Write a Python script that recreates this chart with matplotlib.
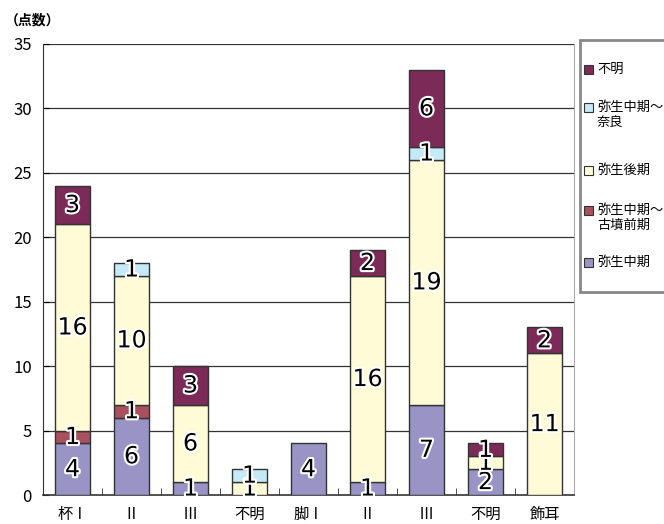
import numpy as np
import matplotlib.pyplot as plt
import matplotlib.patheffects as pe
from matplotlib.patches import Rectangle

plt.rcParams['font.family'] = ['Noto Sans CJK JP', 'DejaVu Sans']

categories = ['杯Ⅰ', 'Ⅱ', 'Ⅲ', '不明', '脚Ⅰ', 'Ⅱ', 'Ⅲ', '不明', '飾耳']
series_names = ['弥生中期', '弥生中期～\n古墳前期', '弥生後期', '弥生中期～\n奈良', '不明']
yayoi_mid = [4, 6, 1, 0, 4, 1, 7, 2, 0]
yayoi_mid_kofun = [1, 1, 0, 0, 0, 0, 0, 0, 0]
yayoi_late = [16, 10, 6, 1, 0, 16, 19, 1, 11]
yayoi_mid_nara = [0, 1, 0, 1, 0, 0, 1, 0, 0]
unknown = [3, 0, 3, 0, 0, 2, 6, 1, 2]
colors = ['#9a94c6', '#a8505e', '#fffbd6', '#c6e9f7', '#7c2a57']

data = [yayoi_mid, yayoi_mid_kofun, yayoi_late, yayoi_mid_nara, unknown]

W, H = 664, 524
fig = plt.figure(figsize=(W / 100, H / 100), dpi=100)
ax = fig.add_axes([43/W, 1 - 495/H, (574 - 43)/W, (495 - 44)/H])

x = np.arange(len(categories))
bottom = np.zeros(len(categories))
for vals, name, c in zip(data, series_names, colors):
    vals = np.array(vals, dtype=float)
    keep = vals > 0  # no empty segments (they would leave an edge line)
    ax.bar(x[keep], vals[keep], width=0.6, bottom=bottom[keep], color=c,
           edgecolor='#333333', linewidth=1.0, zorder=3)
    for xi, v, b in zip(x[keep], vals[keep], bottom[keep]):
        ax.text(xi, b + v / 2, f'{int(v)}', ha='center', va='center',
                fontsize=17, family='DejaVu Sans', color='black', zorder=5,
                path_effects=[pe.withStroke(linewidth=3, foreground='white')])
    bottom += vals

ax.set_xlim(-0.5, len(categories) - 0.5)
ax.set_ylim(0, 35)
ax.set_yticks(range(0, 36, 5))
ax.set_xticks(x)
ax.set_xticklabels(categories, fontsize=11)
ax.set_xticks(np.arange(0.5, len(categories) - 0.5, 1), minor=True)
ax.tick_params(axis='x', which='major', length=0, pad=8)
ax.tick_params(axis='x', which='minor', direction='in', length=5, color='#333333')
ax.tick_params(axis='y', direction='in', length=4, labelsize=12, pad=8)
for yv in range(5, 36, 5):
    ax.axhline(yv, color='#333333', linewidth=0.9, zorder=1)
ax.spines['top'].set_visible(False)
ax.spines['right'].set_color('#aaaaaa')
ax.spines['left'].set_color('#333333')
ax.spines['bottom'].set_color('#333333')
ax.spines['bottom'].set_linewidth(1.2)

fig.text(5/W, 1 - 20/H, '（点数）', fontsize=10, fontweight='bold', va='center', ha='left')

# legend box drawn by hand so it can run off the right edge like the original
fig.patches.append(Rectangle((580/W, 1 - 292/H), 100/W, 252/H, transform=fig.transFigure,
                             facecolor='white', edgecolor='#888888', linewidth=2))
leg_y = [69, 115, 170, 218, 262]
for yy, name, c in zip(leg_y, series_names[::-1], colors[::-1]):
    first_line = yy - (8 if '\n' in name else 0)
    fig.patches.append(Rectangle((584/W, 1 - (first_line + 5)/H), 9/W, 9/H,
                                 transform=fig.transFigure, facecolor=c,
                                 edgecolor='#333333', linewidth=0.8))
    fig.text(597/W, 1 - yy/H, name, fontsize=9.5, va='center', ha='left',
             linespacing=1.2)

fig.savefig('out.png', dpi=100)
